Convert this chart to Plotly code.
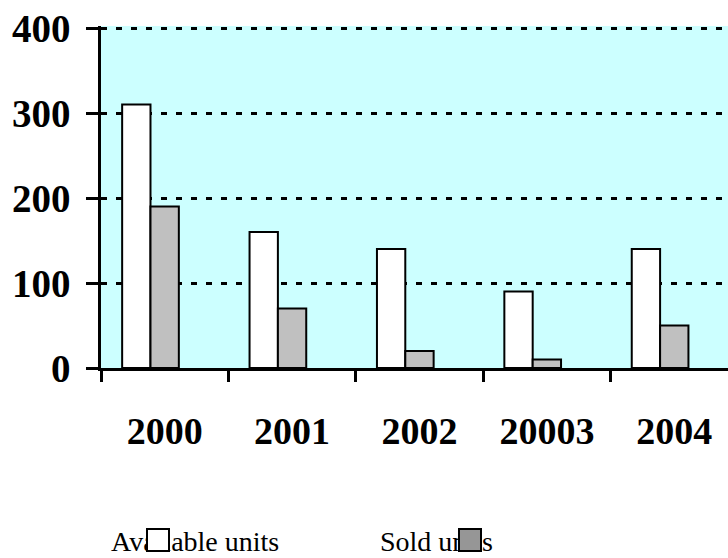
import plotly.graph_objects as go

categories = ["2000", "2001", "2002", "20003", "2004"]
available_units = [310, 160, 140, 90, 140]
sold_units = [190, 70, 20, 10, 50]
y_ticks = [0, 100, 200, 300, 400]

W, H = 728, 558
L, R, T, B = 101, 0, 26, 190
plot_w = W - L - R
plot_h = H - T - B
y_top = plot_h / 0.85  # keep 0.85 px per unit, 400 lands at ~y=28

def px_x(p):
    return (p - L) / plot_w

def px_y(p):
    return (H - B - p) / plot_h

fig = go.Figure()
fig.add_trace(go.Bar(
    x=categories, y=available_units, name="Available units",
    marker=dict(color="#FFFFFF", line=dict(color="#000000", width=2)),
    width=0.2225, offset=-0.334, showlegend=False,
))
fig.add_trace(go.Bar(
    x=categories, y=sold_units, name="Sold units",
    marker=dict(color="#C0C0C0", line=dict(color="#000000", width=2)),
    width=0.2225, offset=-0.1115, showlegend=False,
))

font_family = "Liberation Serif, Times New Roman, serif"

fig.update_layout(
    width=W, height=H,
    margin=dict(l=L, r=R, t=T, b=B, pad=0, autoexpand=False),
    paper_bgcolor="#FFFFFF",
    plot_bgcolor="#CCFFFF",
    barmode="overlay",
    showlegend=False,
    font=dict(family=font_family, color="#000000"),
)

fig.update_xaxes(
    type="category",
    range=[-0.5, -0.5 + plot_w / 127.4],
    tickson="boundaries",
    ticks="outside", ticklen=11, tickwidth=2.5, tickcolor="#000000",
    showline=True, linecolor="#000000", linewidth=2.5,
    showgrid=False, zeroline=False, automargin=False,
    tickfont=dict(family=font_family, size=38, color="#000000", weight="bold"),
    ticklabelstandoff=28,
)

fig.update_yaxes(
    range=[0, y_top],
    tickvals=y_ticks,
    ticktext=[str(v) for v in y_ticks],
    ticks="outside", ticklen=12, tickwidth=2.5, tickcolor="#000000",
    showline=True, linecolor="#000000", linewidth=2.5,
    showgrid=True, gridcolor="#000000", gridwidth=2.5, griddash="6px,9px",
    zeroline=False, automargin=False,
    tickfont=dict(family=font_family, size=39, color="#000000", weight="bold"),
    ticklabelstandoff=8,
)

# Legend drawn as text with overlapping key boxes (as in the reference)
legend_items = [
    ("Available units", 194.5, "#FFFFFF", 158.4),
    ("Sold units", 436.5, "#969696", 470.0),
]
for text, cx, color, bx in legend_items:
    fig.add_annotation(
        text=text, xref="paper", yref="paper",
        x=px_x(cx), y=px_y(541), xanchor="center", yanchor="middle",
        showarrow=False, font=dict(family=font_family, size=28, color="#000000"),
        borderpad=0, borderwidth=0,
    )
for text, cx, color, bx in legend_items:
    fig.add_annotation(
        text=" ", xref="paper", yref="paper",
        x=px_x(bx), y=px_y(539.5), xanchor="center", yanchor="middle",
        showarrow=False, width=20, height=20,
        bgcolor=color, bordercolor="#000000", borderwidth=2, borderpad=0,
        font=dict(size=10),
    )

fig.write_html(
    "out.html",
    config={"displayModeBar": False},
    post_script="document.body.style.margin='0';document.body.style.overflow='hidden';",
)
